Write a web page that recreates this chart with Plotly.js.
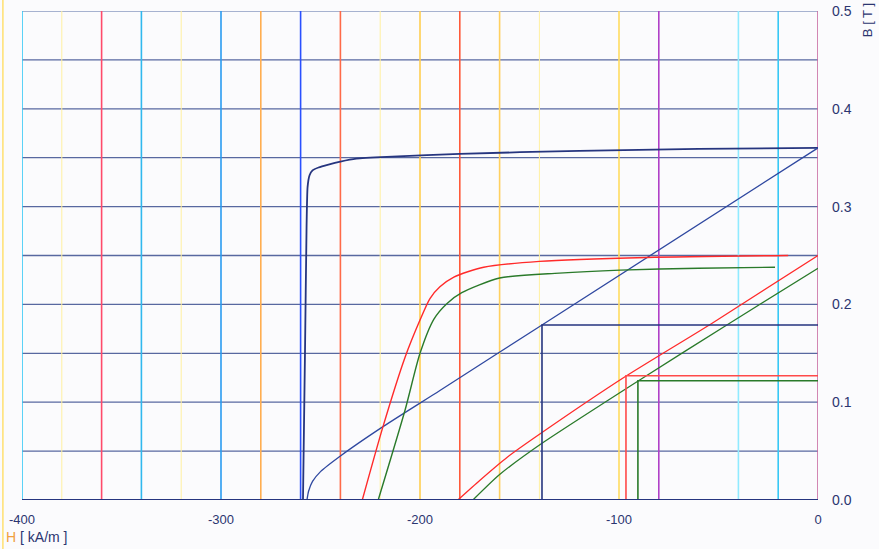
<!DOCTYPE html>
<html>
<head>
<meta charset="utf-8">
<script src="https://cdn.plot.ly/plotly-3.0.1.min.js"></script>
<style>html,body{margin:0;padding:0;background:#fbfbfd;}#chart{width:879px;height:549px;}</style>
</head>
<body>
<div id="chart"></div>
<script>
// Vertical reference lines (H, kA/m) and their colours
const vLineH = [-400,-380,-360,-340,-320,-300,-280,-260,-240,-220,-200,-180,-160,-140,-100,-80,-40,-20,0];
const vLineColor = ['#33c8f5','#fff0a0','#ff4a6a','#30b8ee','#fff0a0','#2a9cf0','#ffae50','#2a50ff','#ff6a48','#fff0a0','#ffcf50','#ff5a3a','#ffd060','#fff0a0','#ffdc60','#b040c8','#90eaff','#38c8f5','#c86aa0'];
// Horizontal grid lines (B, T)
const hLineB = [0.05,0.1,0.15,0.2,0.25,0.3,0.35,0.4,0.45];

// Demagnetisation curve, high grade (blue)
const blueH = [0,-60,-120,-180,-214,-232,-240,-246,-251,-254,-255.5,-256.5,-257,-257.8,-258.8];
const blueB = [0.36,0.359,0.357,0.354,0.351,0.349,0.346,0.343,0.34,0.337,0.332,0.32,0.28,0.15,0];
// Load line (blue)
const blueLoadH = [0,-138.7,-190,-218.6,-240,-250,-254,-256,-256.8];
const blueLoadB = [0.36,0.179,0.112,0.075,0.045,0.029,0.019,0.009,0];

// Red demagnetisation curve and its recoil line
const redH = [-229,-218.6,-207.5,-200,-195,-190,-183,-168,-140,-86,-15];
const redB = [0,0.075,0.146,0.184,0.206,0.218,0.228,0.238,0.244,0.248,0.25];
const redLoadH = [-181,-170,-156,-138.7,-97,-53,0];
const redLoadB = [0,0.02,0.044,0.069,0.126,0.181,0.25];

// Green demagnetisation curve and its recoil line
const greenH = [-221,-207.5,-200,-193,-186.4,-179,-160,-130,-99.5,-60,-21.6];
const greenB = [0,0.092,0.15,0.185,0.201,0.212,0.227,0.232,0.235,0.237,0.238];
const greenLoadH = [-173.4,-160,-138.7,-89.4,-44.2,0];
const greenLoadB = [0,0.026,0.058,0.123,0.181,0.237];

// Working points (H, B)
const workH = [-138.7,-96.5,-90.5];
const workB = [0.179,0.127,0.122];
const workColor = ['#26357f','#ff4a4a','#2a7a2a'];

const xTicks = [-400,-300,-200,-100,0];
const yTicks = [0,0.1,0.2,0.3,0.4,0.5];

const navy = '#26357f';
const traces = [];
function line(x,y,color,w,smooth){
  traces.push({x:x,y:y,mode:'lines',line:{color:color,width:w,shape:smooth?'spline':'linear',smoothing:smooth||0},hoverinfo:'skip',showlegend:false});
}
line(blueH,blueB,navy,1.8,0.5);
line(blueLoadH,blueLoadB,'#2f48a0',1.3,0.6);
line(redH,redB,'#ff2a2a',1.4,0.7);
line(redLoadH,redLoadB,'#ff2a2a',1.3,0.6);
line(greenH,greenB,'#2a7a2a',1.4,0.7);
line(greenLoadH,greenLoadB,'#2a7a2a',1.3,0.6);
for(let i=0;i<workH.length;i++){
  line([workH[i],workH[i],0],[0,workB[i],workB[i]],workColor[i],1.6,0);
}

const shapes = [];
for(let i=0;i<hLineB.length;i++){
  shapes.push({type:'line',xref:'paper',yref:'y',x0:0,x1:1,y0:hLineB[i],y1:hLineB[i],layer:'below',
    line:{color:'#5868a0',width:1.3}});
}
for(let i=0;i<vLineH.length;i++){
  const c = vLineColor[i];
  const light = c==='#fff0a0';
  shapes.push({type:'line',xref:'x',yref:'y',x0:vLineH[i],x1:vLineH[i],y0:0,y1:0.5,layer:'below',
    line:{color:c,width: light?1:1.6}});
}
// left outside yellow line
shapes.push({type:'line',xref:'paper',yref:'paper',x0:-0.024,x1:-0.024,y0:-0.2,y1:1.1,layer:'below',line:{color:'#ffe070',width:1.5}});
// top border
shapes.push({type:'line',xref:'paper',yref:'y',x0:0,x1:1,y0:0.5,y1:0.5,layer:'below',line:{color:'#8a9ac0',width:1.5}});
// bottom axis
shapes.push({type:'line',xref:'paper',yref:'y',x0:0,x1:1,y0:0,y1:0,layer:'above',line:{color:navy,width:2.2}});

const layout = {
  width:879,height:549,
  paper_bgcolor:'#fbfbfd',plot_bgcolor:'#fbfbfd',
  margin:{l:22,r:61,t:11,b:49},
  showlegend:false,
  font:{family:'Liberation Sans, Arial, sans-serif',size:13,color:'#2b3570'},
  xaxis:{range:[-400,0],tickvals:xTicks,ticktext:xTicks.map(String),showgrid:false,zeroline:false,
    showline:false,ticks:'',ticklabelstandoff:10,tickfont:{size:13,color:'#2b3570'}},
  yaxis:{range:[0,0.5],side:'right',tickvals:yTicks,ticktext:yTicks.map(v=>v.toFixed(1)),
    showgrid:false,zeroline:false,showline:false,ticks:'',
    ticklabelstandoff:13,tickfont:{size:14,color:'#2b3570'}},
  shapes:shapes,
  annotations:[
    {xref:'paper',yref:'paper',x:-0.022,y:-0.075,xanchor:'left',yanchor:'middle',showarrow:false,
     text:'<span style="color:#f0a040">H</span> [ kA/m ]',font:{size:14,color:'#2b3570'}},
    {xref:'paper',yref:'paper',x:1.062,y:0.982,xanchor:'center',yanchor:'middle',showarrow:false,textangle:-90,
     text:'B [ T ]',font:{size:13,color:'#2b3570'}}
  ]
};
Plotly.newPlot('chart',traces,layout,{staticPlot:true,displayModeBar:false});
</script>
</body>
</html>
